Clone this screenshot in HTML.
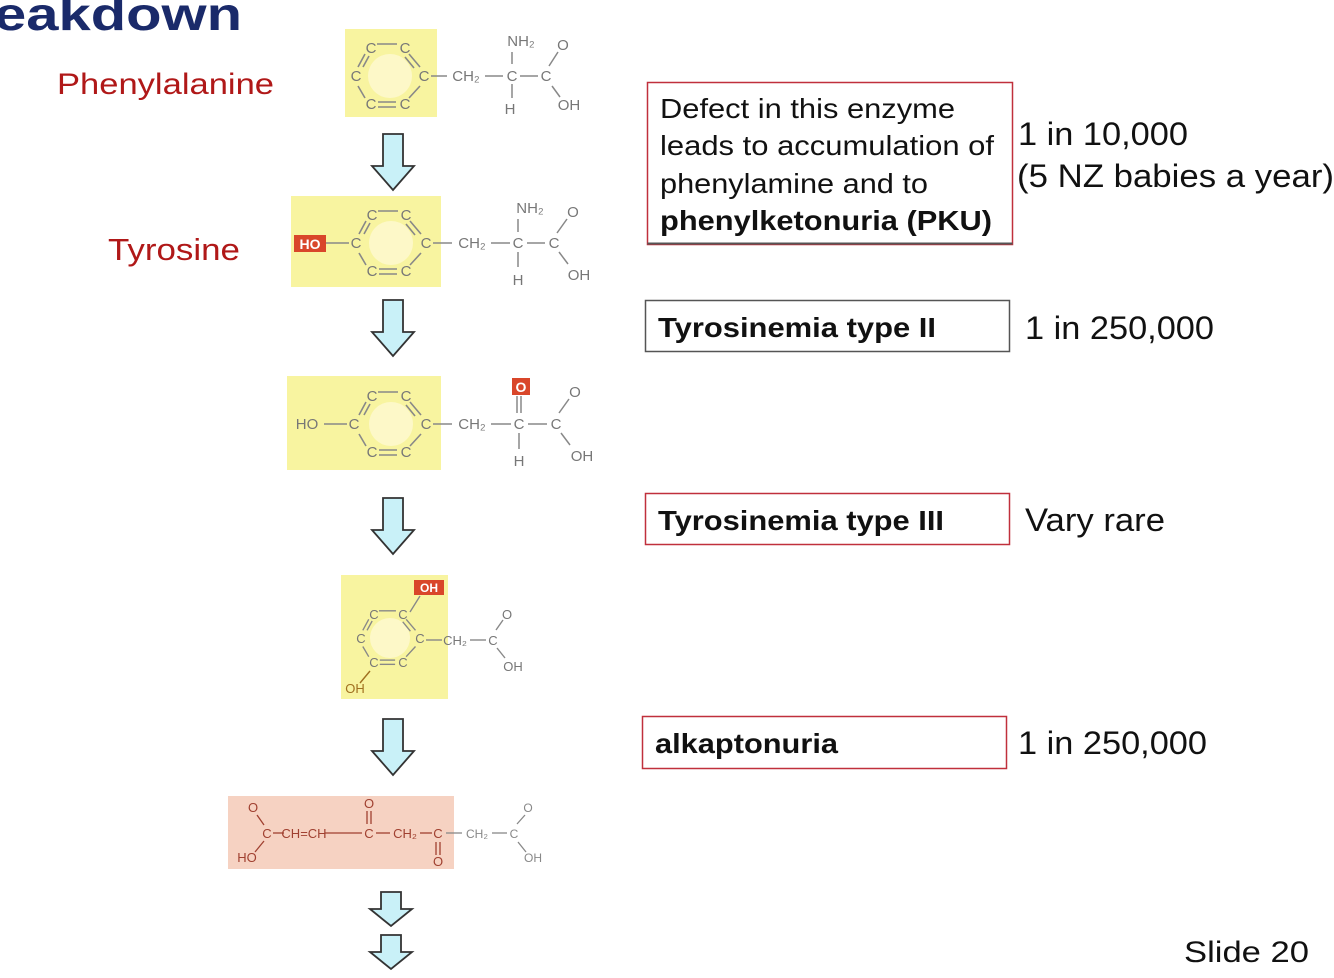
<!DOCTYPE html>
<html><head><meta charset="utf-8"><style>
html,body{margin:0;padding:0;background:#fff;}
svg{display:block;font-family:"Liberation Sans",sans-serif;}
</style></head><body>
<svg width="1334" height="978" viewBox="0 0 1334 978" xmlns="http://www.w3.org/2000/svg">
<defs>
<g id="ring" stroke="#888" stroke-width="1.6" fill="none">
<line x1="-13" y1="-32" x2="7" y2="-32"/>
<line x1="-25" y1="-22" x2="-32" y2="-9"/><line x1="-21" y1="-20" x2="-27" y2="-9"/>
<line x1="19" y1="-22" x2="30" y2="-9"/><line x1="15" y1="-19" x2="24" y2="-8"/>
<line x1="-32" y1="10" x2="-25" y2="22"/>
<line x1="30" y1="10" x2="19" y2="22"/>
<line x1="-12" y1="26" x2="6" y2="26"/><line x1="-12" y1="31" x2="6" y2="31"/>
</g>
<g id="arrow"><path d="M-10,0 H10 V32 H21 L0,56 L-21,32 H-10 Z" fill="#c9f1f8" stroke="#333" stroke-width="1.8"/></g>
<g id="arrowS"><path d="M-10,0 H10 V17 H21 L0,34 L-21,17 H-10 Z" fill="#c9f1f8" stroke="#333" stroke-width="1.8"/></g>
</defs>

<text x="-6" y="30" font-size="46" font-weight="bold" fill="#1a2a6a" textLength="248" lengthAdjust="spacingAndGlyphs">eakdown</text>
<text x="57" y="94" font-size="30" fill="#b01818" textLength="217" lengthAdjust="spacingAndGlyphs">Phenylalanine</text>
<text x="108" y="260" font-size="31" fill="#b01818" textLength="132" lengthAdjust="spacingAndGlyphs">Tyrosine</text>

<!-- Molecule 1 -->
<rect x="345" y="29" width="92" height="88" fill="#f8f4a0"/>
<ellipse cx="390" cy="76" rx="22" ry="22" fill="#fdf8c8"/>
<g transform="translate(390,76)"><use href="#ring"/></g>
<g font-size="15" fill="#777" text-anchor="middle">
<text x="371" y="53">C</text><text x="405" y="53">C</text>
<text x="356" y="81">C</text><text x="424" y="81">C</text>
<text x="371" y="109">C</text><text x="405" y="109">C</text>
<text x="466" y="81">CH₂</text><text x="512" y="81">C</text><text x="546" y="81">C</text>
<text x="521" y="46">NH₂</text><text x="563" y="50">O</text>
<text x="510" y="114">H</text><text x="569" y="110">OH</text>
</g>
<g stroke="#888" stroke-width="1.5"><line x1="431" y1="76" x2="447" y2="76"/><line x1="485" y1="76" x2="503" y2="76"/><line x1="520" y1="76" x2="538" y2="76"/><line x1="512" y1="52" x2="512" y2="64"/><line x1="512" y1="84" x2="512" y2="98"/><line x1="549" y1="66" x2="558" y2="52"/><line x1="552" y1="86" x2="560" y2="97"/></g>

<!-- Molecule 2 -->
<rect x="291" y="196" width="150" height="91" fill="#f8f4a0"/>
<ellipse cx="391" cy="243" rx="22" ry="22" fill="#fdf8c8"/>
<g transform="translate(391,243)"><use href="#ring"/></g>
<rect x="294" y="235" width="32" height="17" fill="#d9462a"/>
<text x="310" y="249" font-size="14" font-weight="bold" fill="#fff" text-anchor="middle">HO</text>
<g font-size="15" fill="#777" text-anchor="middle">
<text x="372" y="220">C</text><text x="406" y="220">C</text>
<text x="356" y="248">C</text><text x="426" y="248">C</text>
<text x="372" y="276">C</text><text x="406" y="276">C</text>
<text x="472" y="248">CH₂</text><text x="518" y="248">C</text><text x="554" y="248">C</text>
<text x="530" y="213">NH₂</text><text x="573" y="217">O</text>
<text x="518" y="285">H</text><text x="579" y="280">OH</text>
</g>
<g stroke="#888" stroke-width="1.5"><line x1="326" y1="243" x2="349" y2="243"/><line x1="433" y1="243" x2="452" y2="243"/><line x1="491" y1="243" x2="510" y2="243"/><line x1="527" y1="243" x2="545" y2="243"/><line x1="518" y1="219" x2="518" y2="232"/><line x1="518" y1="252" x2="518" y2="267"/><line x1="557" y1="233" x2="567" y2="219"/><line x1="559" y1="252" x2="568" y2="264"/></g>

<!-- Molecule 3 -->
<rect x="287" y="376" width="154" height="94" fill="#f8f4a0"/>
<ellipse cx="391" cy="424" rx="22" ry="22" fill="#fdf8c8"/>
<g transform="translate(391,424)"><use href="#ring"/></g>
<g font-size="15" fill="#777" text-anchor="middle">
<text x="307" y="429">HO</text>
<text x="372" y="401">C</text><text x="406" y="401">C</text>
<text x="354" y="429">C</text><text x="426" y="429">C</text>
<text x="372" y="457">C</text><text x="406" y="457">C</text>
<text x="472" y="429">CH₂</text><text x="519" y="429">C</text><text x="556" y="429">C</text>
<text x="575" y="397">O</text>
<text x="519" y="466">H</text><text x="582" y="461">OH</text>
</g>
<rect x="512" y="378" width="18" height="17" fill="#d9462a"/>
<text x="521" y="392" font-size="14" font-weight="bold" fill="#fff" text-anchor="middle">O</text>
<g stroke="#888" stroke-width="1.5"><line x1="324" y1="424" x2="347" y2="424"/><line x1="433" y1="424" x2="452" y2="424"/><line x1="491" y1="424" x2="511" y2="424"/><line x1="528" y1="424" x2="547" y2="424"/><line x1="517" y1="396" x2="517" y2="413"/><line x1="521" y1="396" x2="521" y2="413"/><line x1="519" y1="433" x2="519" y2="449"/><line x1="559" y1="413" x2="569" y2="399"/><line x1="561" y1="433" x2="570" y2="445"/></g>

<!-- Molecule 4 -->
<rect x="341" y="575" width="107" height="124" fill="#f8f4a0"/>
<ellipse cx="390" cy="638" rx="20" ry="20" fill="#fdf8c8"/>
<g transform="translate(390,638) scale(0.85)"><use href="#ring"/></g>
<rect x="414" y="580" width="30" height="15" fill="#d9462a"/>
<text x="429" y="592" font-size="12" font-weight="bold" fill="#fff" text-anchor="middle">OH</text>
<g font-size="13" fill="#777" text-anchor="middle">
<text x="374" y="619">C</text><text x="403" y="619">C</text>
<text x="361" y="643">C</text><text x="420" y="643">C</text>
<text x="374" y="667">C</text><text x="403" y="667">C</text>
<text x="455" y="645">CH₂</text><text x="493" y="645">C</text>
<text x="507" y="619">O</text><text x="513" y="671">OH</text>
</g>
<text x="355" y="693" font-size="13" fill="#a07020" text-anchor="middle">OH</text>
<g stroke="#888" stroke-width="1.4"><line x1="426" y1="640" x2="442" y2="640"/><line x1="470" y1="640" x2="486" y2="640"/><line x1="496" y1="630" x2="503" y2="620"/><line x1="497" y1="648" x2="505" y2="658"/><line x1="410" y1="612" x2="420" y2="596"/></g>
<line x1="370" y1="671" x2="360" y2="683" stroke="#a07020" stroke-width="1.4"/>

<!-- Molecule 5 -->
<rect x="228" y="796" width="226" height="73" fill="#f6d2c2"/>
<g font-size="13" fill="#a04030" text-anchor="middle">
<text x="253" y="812">O</text><text x="267" y="838">C</text><text x="247" y="862">HO</text>
<text x="304" y="838">CH=CH</text><text x="369" y="838">C</text><text x="369" y="808">O</text>
<text x="405" y="838">CH₂</text><text x="438" y="838">C</text><text x="438" y="866">O</text>
</g>
<g stroke="#a04030" stroke-width="1.3"><line x1="273" y1="833" x2="284" y2="833"/><line x1="325" y1="833" x2="362" y2="833"/><line x1="376" y1="833" x2="390" y2="833"/><line x1="420" y1="833" x2="432" y2="833"/><line x1="367" y1="811" x2="367" y2="824"/><line x1="371" y1="811" x2="371" y2="824"/><line x1="436" y1="842" x2="436" y2="855"/><line x1="440" y1="842" x2="440" y2="855"/><line x1="257" y1="815" x2="264" y2="825"/><line x1="264" y1="841" x2="255" y2="852"/></g>
<g font-size="12" fill="#888" text-anchor="middle">
<text x="477" y="838">CH₂</text><text x="514" y="838">C</text><text x="528" y="812">O</text><text x="533" y="862">OH</text>
</g>
<g stroke="#888" stroke-width="1.3"><line x1="446" y1="833" x2="462" y2="833"/><line x1="492" y1="833" x2="507" y2="833"/><line x1="517" y1="824" x2="525" y2="815"/><line x1="518" y1="842" x2="526" y2="852"/></g>

<!-- Arrows -->
<g transform="translate(393,134)"><use href="#arrow"/></g>
<g transform="translate(393,300)"><use href="#arrow"/></g>
<g transform="translate(393,498)"><use href="#arrow"/></g>
<g transform="translate(393,719)"><use href="#arrow"/></g>
<g transform="translate(391,892)"><use href="#arrowS"/></g>
<g transform="translate(391,935)"><use href="#arrowS"/></g>

<!-- Boxes -->
<rect x="647.5" y="82.5" width="365" height="162" fill="none" stroke="#c0303c" stroke-width="1.5"/>
<rect x="647.5" y="242.5" width="365" height="2" fill="#555"/>
<g font-size="28" fill="#111">
<text x="660" y="118" textLength="295" lengthAdjust="spacingAndGlyphs">Defect in this enzyme</text>
<text x="660" y="155" textLength="334" lengthAdjust="spacingAndGlyphs">leads to accumulation of</text>
<text x="660" y="193" textLength="268" lengthAdjust="spacingAndGlyphs">phenylamine and to</text>
<text x="660" y="230" font-weight="bold" textLength="332" lengthAdjust="spacingAndGlyphs">phenylketonuria (PKU)</text>
<text x="1018" y="145" font-size="32" textLength="170" lengthAdjust="spacingAndGlyphs">1 in 10,000</text>
<text x="1017" y="187" font-size="32" textLength="317" lengthAdjust="spacingAndGlyphs">(5 NZ babies a year)</text>
</g>
<rect x="645.5" y="300.5" width="364" height="51" fill="none" stroke="#555" stroke-width="1.5"/>
<text x="658" y="337" font-size="28" font-weight="bold" fill="#111" textLength="278" lengthAdjust="spacingAndGlyphs">Tyrosinemia type II</text>
<text x="1025" y="339" font-size="32" fill="#111" textLength="189" lengthAdjust="spacingAndGlyphs">1 in 250,000</text>

<rect x="645.5" y="493.5" width="364" height="51" fill="none" stroke="#c0303c" stroke-width="1.5"/>
<text x="658" y="530" font-size="28" font-weight="bold" fill="#111" textLength="286" lengthAdjust="spacingAndGlyphs">Tyrosinemia type III</text>
<text x="1025" y="531" font-size="32" fill="#111" textLength="140" lengthAdjust="spacingAndGlyphs">Vary rare</text>

<rect x="642.5" y="716.5" width="364" height="52" fill="none" stroke="#c0303c" stroke-width="1.5"/>
<text x="655" y="753" font-size="28" font-weight="bold" fill="#111" textLength="183" lengthAdjust="spacingAndGlyphs">alkaptonuria</text>
<text x="1018" y="754" font-size="32" fill="#111" textLength="189" lengthAdjust="spacingAndGlyphs">1 in 250,000</text>

<text x="1184" y="962" font-size="30" fill="#111" textLength="125" lengthAdjust="spacingAndGlyphs">Slide 20</text>
</svg>
</body></html>
